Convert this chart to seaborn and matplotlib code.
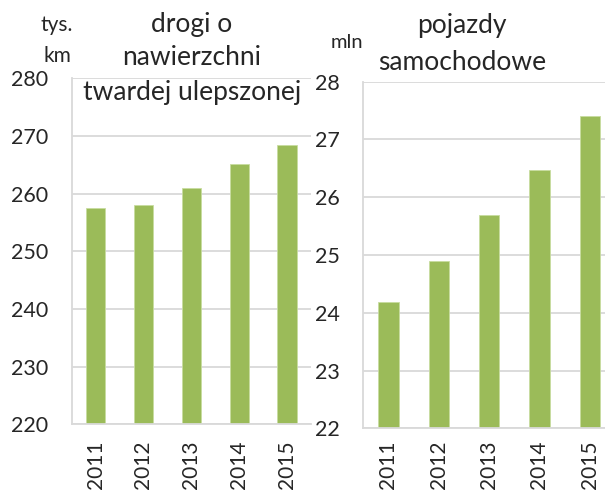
import seaborn as sns
import matplotlib.pyplot as plt
import pandas as pd
import numpy as np

# Data
years = ["2011", "2012", "2013", "2014", "2015"]
roads = [257.5, 258.0, 261.0, 265.1, 268.4]      # tys. km
vehicles = [24.19, 24.89, 25.69, 26.47, 27.41]   # mln

roads_ticks = [220, 230, 240, 250, 260, 270, 280]
veh_ticks = [22, 23, 24, 25, 26, 27, 28]

sns.set_style("white")
plt.rcParams["font.family"] = ["Lato", "DejaVu Sans"]

BAR = "#9BBB59"
GRID = "#D9D9D9"
W, H = 605, 492

fig = plt.figure(figsize=(W / 100, H / 100), dpi=100)


def px_axes(x0, y0, x1, y1):
    # axes box given in pixel coords (top-left origin)
    return fig.add_axes([x0 / W, 1 - y1 / H, (x1 - x0) / W, (y1 - y0) / H])


def style(ax, ticks, xpad):
    ax.set_ylim(ticks[0], ticks[-1])
    ax.set_yticks(ticks)
    ax.yaxis.grid(True, color=GRID, linewidth=1.3)
    ax.set_axisbelow(True)
    for s in ["top", "right"]:
        ax.spines[s].set_visible(False)
    for s in ["left", "bottom"]:
        ax.spines[s].set_color(GRID)
        ax.spines[s].set_linewidth(1.3)
    ax.set_xlim(-0.5, len(years) - 0.5)
    # category boundaries get tick marks, labels sit at centres
    ax.set_xticks(np.arange(-0.5, len(years)), labels=[""] * (len(years) + 1))
    ax.set_xticks(np.arange(len(years)), labels=years, minor=True, rotation=90)
    ax.tick_params(axis="x", which="major", length=6, color=GRID, width=1.3)
    ax.tick_params(axis="x", which="minor", length=0, pad=xpad, labelsize=15)
    ax.tick_params(axis="y", length=6, color=GRID, width=1.3, pad=11, labelsize=15.5)
    ax.set_xlabel("")
    ax.set_ylabel("")


ax1 = px_axes(71.7, 78.3, 311, 424.3)
sns.barplot(x=years, y=roads, color=BAR, width=0.4, saturation=1,
            edgecolor="#C8DCA0", linewidth=0.6, ax=ax1)
style(ax1, roads_ticks, 12)

ax2 = px_axes(363.3, 81.7, 615, 428.3)
sns.barplot(x=years, y=vehicles, color=BAR, width=0.4, saturation=1,
            edgecolor="#C8DCA0", linewidth=0.6, ax=ax2)
style(ax2, veh_ticks, 9)


def ftext(x, y, s, **kw):
    fig.text(x / W, 1 - y / H, s, ha="center", va="baseline", **kw)


for txt, yb in [("drogi o", 32), ("nawierzchni", 65), ("twardej ulepszonej", 100)]:
    ftext(192, yb, txt, fontsize=19)
for txt, yb in [("pojazdy", 33), ("samochodowe", 70)]:
    ftext(462, yb, txt, fontsize=19)
ftext(57, 31, "tys.", fontsize=15)
ftext(57, 62, "km", fontsize=15)
ftext(347, 48, "mln", fontsize=14.5)

plt.savefig("out.png", dpi=100)
plt.close()
